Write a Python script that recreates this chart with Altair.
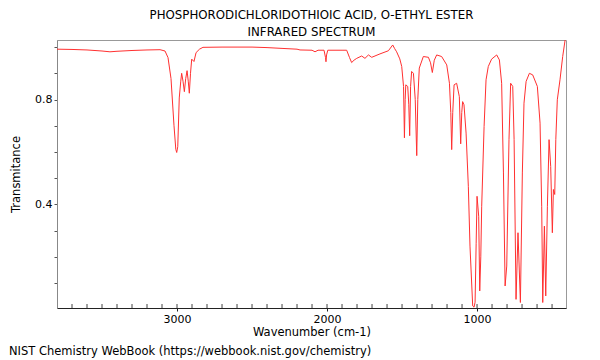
import altair as alt
import pandas as pd

# ---- data ----
wavenumber = [3800, 3700, 3600, 3500, 3447, 3400, 3300, 3200, 3113, 3080, 3060, 3040, 3020, 3008,
              3002, 2995, 2985, 2975, 2969, 2960, 2951, 2942, 2933, 2925, 2918, 2910, 2902, 2887,
              2873, 2850, 2827, 2700, 2600, 2500, 2400, 2300, 2200, 2180, 2100, 2080, 2060, 2020,
              2010, 2007, 2003, 1995, 1900, 1869, 1850, 1836, 1820, 1802, 1769, 1747, 1724, 1702,
              1647, 1591, 1562, 1550, 1536, 1515, 1502, 1490, 1484, 1479, 1475, 1462, 1455, 1449,
              1443, 1436, 1424, 1412, 1402, 1395, 1385, 1358, 1324, 1310, 1298, 1285, 1269, 1236,
              1202, 1184, 1175, 1169, 1162, 1153, 1136, 1118, 1109, 1102, 1096, 1087, 1073, 1058,
              1047, 1029, 1020, 1013, 1006, 1000, 989, 982, 975, 969, 953, 940, 925, 903, 869, 851,
              836, 824, 813, 802, 787, 776, 762, 753, 740, 727, 711, 698, 687, 673, 651, 629, 598,
              580, 569, 562, 551, 542, 531, 520, 509, 498, 491, 482, 475, 465, 447, 429, 413]
transmittance = [0.992, 0.991, 0.989, 0.985, 0.982, 0.984, 0.987, 0.989, 0.990, 0.985, 0.96, 0.88,
                 0.70, 0.61, 0.598, 0.62, 0.806, 0.87, 0.90, 0.87, 0.83, 0.88, 0.91, 0.87, 0.824,
                 0.90, 0.954, 0.945, 0.979, 0.992, 0.999, 1.0, 1.0, 1.0, 0.998, 0.995, 0.992, 0.989,
                 0.988, 0.982, 0.988, 0.988, 0.96, 0.944, 0.97, 0.988, 0.988, 0.988, 0.960, 0.941,
                 0.950, 0.957, 0.966, 0.957, 0.970, 0.961, 0.974, 0.986, 1.008, 0.995, 0.982, 0.955,
                 0.926, 0.85, 0.654, 0.80, 0.856, 0.85, 0.78, 0.662, 0.85, 0.907, 0.90, 0.80, 0.586,
                 0.80, 0.92, 0.964, 0.961, 0.94, 0.903, 0.95, 0.97, 0.964, 0.932, 0.862, 0.75, 0.609,
                 0.75, 0.856, 0.862, 0.811, 0.631, 0.75, 0.792, 0.780, 0.672, 0.469, 0.241, 0.013,
                 0.008, 0.027, 0.25, 0.431, 0.355, 0.07, 0.2, 0.393, 0.697, 0.875, 0.926, 0.954,
                 0.970, 0.951, 0.862, 0.52, 0.089, 0.165, 0.647, 0.862, 0.85, 0.647, 0.038, 0.292,
                 0.026, 0.52, 0.786, 0.869, 0.90, 0.894, 0.85, 0.71, 0.393, 0.026, 0.317, 0.051,
                 0.393, 0.647, 0.545, 0.292, 0.457, 0.438, 0.647, 0.799, 0.875, 0.964, 1.027]

x_label_values = [1000, 2000, 3000]
x_minor_ticks = list(range(500, 3800, 100))
y_tick_values = [0.1, 0.2, 0.3, 0.4, 0.5, 0.6, 0.7, 0.8, 0.9, 1.0]
title_lines = ["PHOSPHORODICHLORIDOTHIOIC ACID, O-ETHYL ESTER", "INFRARED SPECTRUM"]
footer = ["NIST Chemistry WebBook (https://webbook.nist.gov/chemistry)"]

W, H = 509, 268
FONT = "DejaVu Sans"

df = pd.DataFrame({"w": wavenumber, "t": transmittance})

xscale = alt.Scale(domain=[407, 3800], reverse=True, nice=False, zero=False)
yscale = alt.Scale(domain=[0.005, 1.027], nice=False, zero=False)

xaxis = alt.Axis(values=x_label_values, format="d", title="Wavenumber (cm-1)",
                 tickSize=3, labelPadding=2, domainColor="#222", tickColor="#222",
                 titleX=W / 2, titleY=24, titleBaseline="middle", titleAlign="center")

line = alt.Chart(df).mark_line(color="#ff3030", strokeWidth=1, clip=True).encode(
    x=alt.X("w:Q", scale=xscale, axis=xaxis),
    y=alt.Y("t:Q", scale=yscale,
            axis=alt.Axis(values=y_tick_values, title="Transmitance",
                          labelExpr="(abs(datum.value-0.4)<1e-6 || abs(datum.value-0.8)<1e-6) ? format(datum.value,'.1f') : ''",
                          tickSize=3, labelPadding=2, domainColor="#888", tickColor="#555",
                          titleAngle=-90, titleX=-41, titleY=H / 2, titleBaseline="middle",
                          titleAlign="center")),
)

minor = alt.Chart(pd.DataFrame({"w": x_minor_ticks})).mark_rule(color="#444", strokeWidth=1).encode(
    x=alt.X("w:Q", scale=xscale, axis=xaxis),
    y=alt.value(H),
    y2=alt.value(H - 4),
)

foot = alt.Chart(pd.DataFrame({"txt": footer})).mark_text(
    align="left", baseline="middle", fontSize=11.5, font=FONT, color="black"
).encode(text="txt:N", x=alt.value(-48), y=alt.value(312))

chart = alt.layer(line, minor, foot).properties(
    width=W, height=H,
    autosize=alt.AutoSizeParams(type="none"),
    padding={"left": 49, "top": 32, "right": 26, "bottom": 52},
    title=alt.TitleParams(title_lines, fontSize=11.8, fontWeight="normal", font=FONT,
                          lineHeight=17, offset=1, anchor="middle", color="black"),
).configure_view(stroke="#999", strokeWidth=1).configure_axis(
    labelFont=FONT, titleFont=FONT, labelFontSize=11, titleFontSize=11.5,
    titleFontWeight="normal", grid=False, labelColor="black", titleColor="black"
)

chart.save("out.html", embed_options={"renderer": "svg", "actions": False})
